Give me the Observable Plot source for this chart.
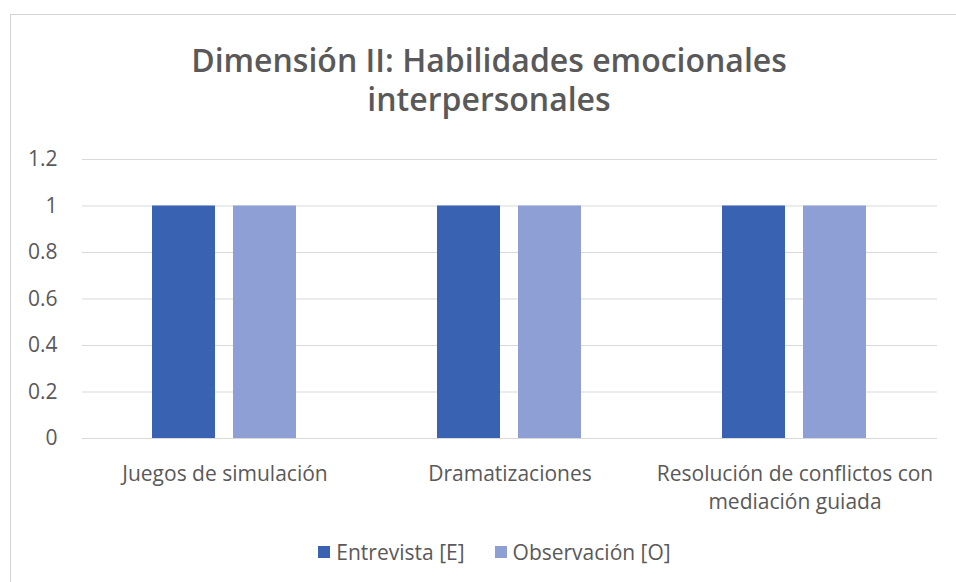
<!DOCTYPE html>
<html>
<head>
<meta charset="utf-8">
<script src="https://cdn.jsdelivr.net/npm/d3@7"></script>
<script src="https://cdn.jsdelivr.net/npm/@observablehq/plot@0.6"></script>
<style>
  html, body { margin: 0; padding: 0; background: #fff; }
  body { width: 956px; height: 582px; position: relative; overflow: hidden; font-family: "Open Sans", Lato, sans-serif; color: #595959; }
  #frame { position: absolute; left: 10px; top: 14px; width: 960px; height: 580px; border-left: 1px solid #d4d4d4; border-top: 1px solid #d4d4d4; }
  #title { position: absolute; left: 0; top: 40px; width: 978px; text-align: center; font-size: 32px; font-weight: 600; line-height: 39px; color: #595959; }
  #chart { position: absolute; left: 0; top: 140px; }
  #legend { position: absolute; left: 61px; width: 867px; top: 538px; height: 28px; display: flex; justify-content: center; align-items: center; font-size: 21px; color: #595959; }
  .item { display: flex; align-items: center; margin: 0 15px; }
  .sw { width: 12px; height: 12px; margin-right: 6px; }
</style>
</head>
<body>
<div id="frame"></div>
<div id="title">Dimensión II: Habilidades emocionales<br>interpersonales</div>
<div id="chart"></div>
<div id="legend"></div>
<script>
const categories = ["Juegos de simulación", "Dramatizaciones", "Resolución de conflictos con mediación guiada"];
const categoryLabels = ["Juegos de simulación", "Dramatizaciones", "Resolución de conflictos con\nmediación guiada"];
const series = ["Entrevista [E]", "Observación [O]"];
const entrevista = [1, 1, 1];
const observacion = [1, 1, 1];
const yTicks = [0, 0.2, 0.4, 0.6, 0.8, 1, 1.2];
const colors = ["#3a62b3", "#8e9fd5"];

const data = [];
categories.forEach((c, i) => {
  data.push({category: c, series: series[0], value: entrevista[i]});
  data.push({category: c, series: series[1], value: observacion[i]});
});

const labelOf = new Map(categories.map((c, i) => [c, categoryLabels[i]]));

const chart = Plot.plot({
  width: 956,
  height: 390,
  marginTop: 19,
  marginBottom: 92,
  marginLeft: 81,
  marginRight: 18,
  style: { fontFamily: "'Open Sans', Lato, sans-serif", fontSize: "21px", color: "#595959", background: "transparent" },
  fx: { domain: categories, padding: 0, label: null },
  x: { domain: series, paddingInner: 0.2195, paddingOuter: 0.852, axis: null },
  y: { domain: [0, 1.2], label: null },
  color: { domain: series, range: colors },
  marks: [
    Plot.gridY(yTicks, { stroke: "#d9d9d9", strokeOpacity: 1, strokeWidth: 1.2 }),
    Plot.barY(data, { fx: "category", x: "series", y: "value", fill: "series" }),
    Plot.axisY(yTicks, { tickSize: 0, tickPadding: 25, tickFormat: d => String(d), fontSize: 21, fill: "#595959", label: null }),
    Plot.axisFx({ anchor: "bottom", tickSize: 0, tickPadding: 23, tickFormat: d => labelOf.get(d), fontSize: 21, lineHeight: 1.33, fill: "#595959", label: null })
  ]
});
document.getElementById("chart").appendChild(chart);

const legend = document.getElementById("legend");
series.forEach((s, i) => {
  const item = document.createElement("div");
  item.className = "item";
  const sw = document.createElement("div");
  sw.className = "sw";
  sw.style.background = colors[i];
  const t = document.createElement("span");
  t.textContent = s;
  item.appendChild(sw);
  item.appendChild(t);
  legend.appendChild(item);
});
</script>
</body>
</html>
